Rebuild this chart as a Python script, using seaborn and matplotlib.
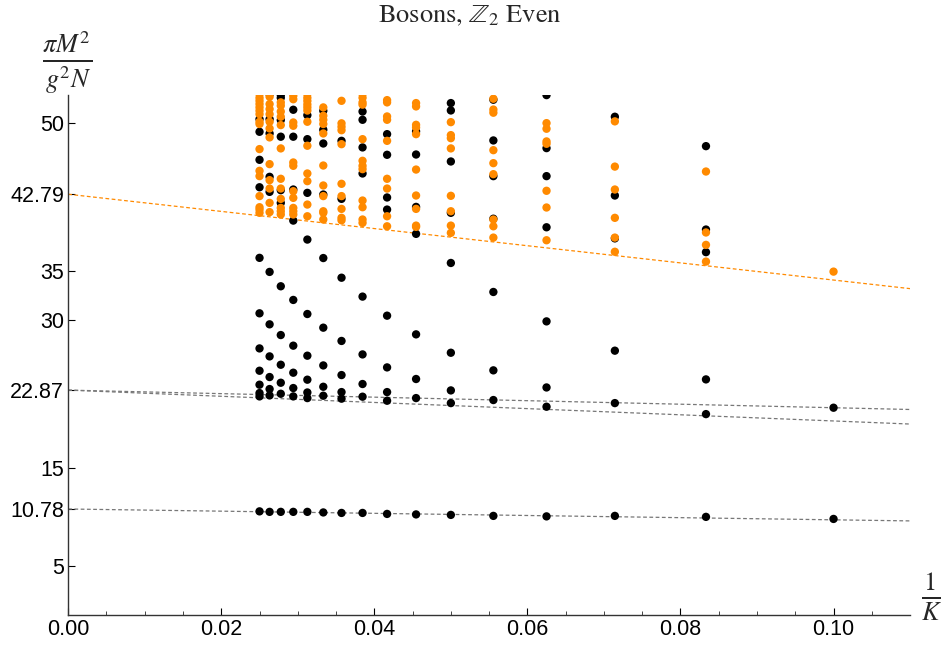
import numpy as np
import pandas as pd
import matplotlib
matplotlib.use("Agg")
import matplotlib.pyplot as plt
import seaborn as sns

# resolutions K; points sit at x = 1/K
k_values = [10, 12, 14, 16, 18, 20, 22, 24, 26, 28, 30, 32, 34, 36, 38, 40]

# Z2-even states per K (black tower and orange tower)
black_m2 = [
    [9.77, 21.08],
    [9.98, 20.43, 23.96, 36.9, 39.2, 47.68],
    [10.08, 21.55, 26.88, 38.3, 42.66, 50.67],
    [10.03, 21.18, 23.14, 29.86, 39.43, 44.63, 47.48, 52.87],
    [10.08, 21.86, 24.88, 32.85, 40.3, 44.63, 48.26, 52.4],
    [10.18, 21.55, 22.84, 26.67, 35.8, 40.9, 46.12, 51.31, 52.06],
    [10.23, 22.06, 24.0, 28.54, 38.76, 41.5, 46.83, 49.18],
    [10.28, 21.79, 22.67, 25.18, 30.44, 41.23, 42.46, 46.8, 48.9],
    [10.38, 22.2, 23.49, 26.5, 32.38, 44.9, 47.55, 50.36, 51.2],
    [10.38, 22.0, 22.67, 24.4, 27.87, 34.3, 42.32, 48.22],
    [10.43, 22.3, 23.21, 25.38, 29.22, 36.3, 42.76, 47.95, 49.35, 51.28],
    [10.49, 22.06, 22.63, 23.93, 26.37, 30.61, 38.18, 42.93, 48.39, 50.83],
    [10.49, 22.23, 23.08, 24.64, 27.39, 32.04, 40.11, 43.27, 48.64, 51.38],
    [10.49, 22.5, 23.62, 25.45, 28.47, 33.43, 41.91, 43.2, 48.64, 50.33, 52.6, 52.9],
    [10.49, 22.33, 22.98, 24.2, 26.3, 29.56, 34.89, 43.03, 44.56, 48.97, 50.43, 52.97],
    [10.54, 22.23, 22.57, 23.42, 24.84, 27.11, 30.68, 36.32, 43.5, 46.29, 49.14, 50.43],
]
orange_m2 = [
    [34.92],
    [35.94, 37.64, 38.9, 45.1],
    [36.94, 38.38, 40.39, 43.27, 45.6, 50.2],
    [38.11, 41.44, 43.14, 47.92, 48.16, 49.45, 50.02],
    [38.38, 39.53, 40.22, 44.83, 45.95, 47.27, 51.08, 51.4, 52.5],
    [38.86, 39.6, 41.06, 42.63, 47.45, 48.49, 48.8, 50.12],
    [39.47, 39.6, 41.3, 42.66, 45.3, 48.9, 49.58, 49.85, 51.72, 52.06],
    [39.53, 40.55, 43.37, 44.36, 48.22, 50.36, 50.7, 52.13, 52.36],
    [39.88, 40.22, 41.47, 42.15, 45.34, 45.68, 46.19, 48.39, 51.9, 52.13, 52.6, 52.97],
    [40.14, 40.39, 41.3, 42.6, 43.85, 47.88, 49.3, 49.65, 50.0, 52.29],
    [40.22, 40.9, 41.06, 42.6, 43.68, 45.71, 48.97, 49.93, 50.36, 50.77, 51.62],
    [40.55, 41.74, 44.12, 44.9, 47.72, 50.16, 51.3, 51.62, 51.92, 52.28, 52.6, 52.97],
    [40.73, 41.06, 41.4, 42.42, 43.1, 45.68, 46.02, 49.75, 50.09, 52.45, 52.8],
    [40.73, 41.06, 41.4, 42.32, 43.37, 44.36, 47.45, 49.82, 50.67, 51.2, 51.8, 52.13],
    [40.97, 41.91, 43.37, 44.22, 45.85, 48.57, 49.48, 50.16, 50.93, 51.45, 51.96, 52.7],
    [40.9, 41.23, 41.47, 42.6, 44.63, 45.17, 47.38, 49.93, 50.16, 50.93, 51.28, 51.62,
     51.96, 52.29, 52.6, 52.97],
]

# linear extrapolations: value at 1/K = 0 and at 1/K = 0.11
fit_start = [10.78, 22.87, 22.87, 42.79]
fit_end = [9.57, 20.9, 19.42, 33.19]
fit_color = ["#777777", "#777777", "#777777", "#FF8A00"]

y_ticks = [5, 10.78, 15, 22.87, 30, 35, 42.79, 50]
y_ticklabels = ["5", "10.78", "15", "22.87", "30", "35", "42.79", "50"]

rows = []
for k, vals in zip(k_values, black_m2):
    for v in vals:
        rows.append({"x": 1.0 / k, "m2": v, "tower": "black"})
for k, vals in zip(k_values, orange_m2):
    for v in vals:
        rows.append({"x": 1.0 / k, "m2": v, "tower": "orange"})
df = pd.DataFrame(rows)

sns.set_theme(style="white")
plt.rcParams["mathtext.fontset"] = "stix"
plt.rcParams["font.family"] = ["Liberation Sans", "DejaVu Sans"]

fig = plt.figure(figsize=(9.47, 6.45), dpi=100)
ax = fig.add_axes([0.072, 0.0465, 0.889, 0.8065])

for y0, y1, c in zip(fit_start, fit_end, fit_color):
    ax.plot([0.0, 0.11], [y0, y1], ls=(0, (3, 2)), lw=0.9, color=c, zorder=1)

sns.scatterplot(data=df, x="x", y="m2", hue="tower",
                palette={"black": "black", "orange": "#FF8A00"},
                s=36, linewidth=0, legend=False, ax=ax, zorder=3)

ax.set_xlim(0, 0.11)
ax.set_ylim(0, 52.9)
ax.set_xticks([0.0, 0.02, 0.04, 0.06, 0.08, 0.10])
ax.set_xticklabels(["0.00", "0.02", "0.04", "0.06", "0.08", "0.10"])
ax.set_xticks(np.arange(0.005, 0.11, 0.005), minor=True)
ax.set_yticks(y_ticks)
ax.set_yticklabels(y_ticklabels)
ax.tick_params(axis="both", which="major", direction="in", length=5, width=0.8,
               labelsize=15.5, colors="black", pad=3)
ax.tick_params(axis="x", which="minor", direction="in", length=3, width=0.6,
               bottom=True)
ax.tick_params(axis="x", which="major", bottom=True)
ax.tick_params(axis="y", which="major", left=True)

for side in ["top", "right"]:
    ax.spines[side].set_visible(False)
for side in ["left", "bottom"]:
    ax.spines[side].set_color("#333333")
    ax.spines[side].set_linewidth(1.0)

ax.set_xlabel("")
ax.set_ylabel("")
fig.text(0.496, 0.975, r"Bosons, $\mathbb{Z}_2$ Even", fontsize=19,
         family="STIXGeneral", ha="center", va="center")
fig.text(0.071, 0.903, r"$\frac{\pi M^2}{g^2 N}$", fontsize=27, ha="center", va="center")
fig.text(0.984, 0.075, r"$\frac{1}{K}$", fontsize=27, ha="center", va="center")

fig.savefig("out.png", dpi=100)
